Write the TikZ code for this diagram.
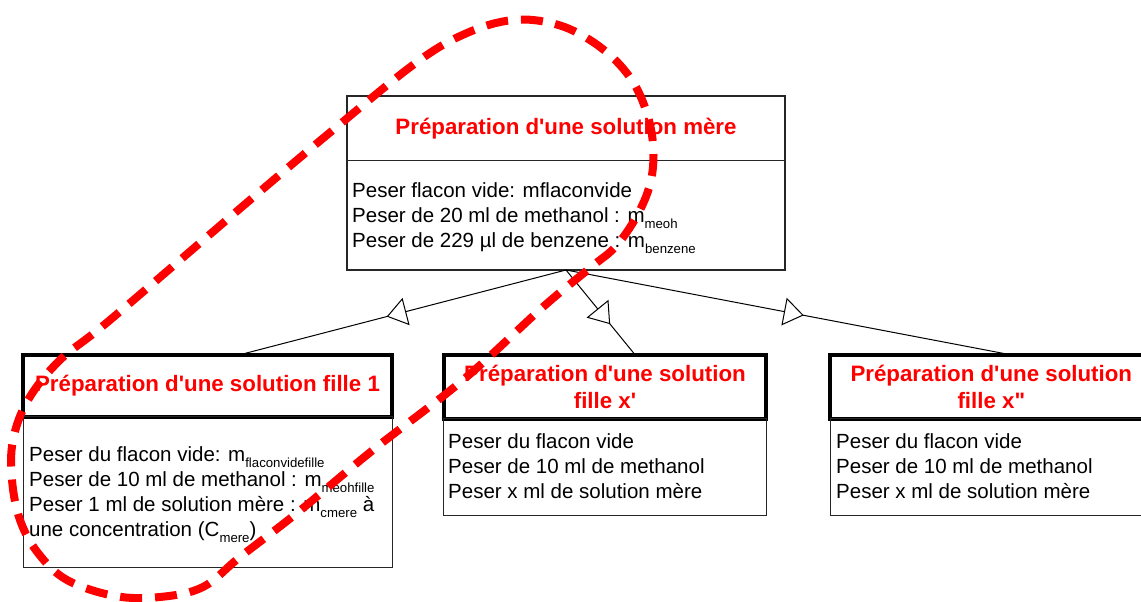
\documentclass[tikz,border=0pt]{standalone}
\usepackage{fontspec}
\setmainfont{Liberation Sans}[Ligatures=TeXOff]
\usetikzlibrary{arrows.meta,decorations.markings,calc}
\newcommand\titlefont{\fontsize{22.3}{27}\selectfont\bfseries}
\newcommand\bodyfont{\fontsize{20.5}{25}\selectfont}
\newcommand\sbs[1]{\smash{\raisebox{-6.5pt}{\fontsize{13.2}{14}\selectfont #1}}}
\begin{document}
\begin{tikzpicture}[x=1pt,y=-1pt,
  frame/.style={draw=black!85, line width=1.2pt, inner sep=0pt, outer sep=0pt, anchor=north west},
  thickframe/.style={draw=black, line width=4pt, inner sep=0pt, outer sep=0pt, anchor=north west, text=red, font=\titlefont, align=center},
  bodyframe/.style={draw=black!85, line width=1pt, inner sep=0pt, outer sep=0pt, anchor=north west},
  txt/.style={anchor=base west, inner sep=0pt, font=\bodyfont},
  conn/.style={draw=black, line width=1pt, postaction={decorate},
    decoration={markings, mark=at position #1 with {\arrow{Triangle[length=20pt,width=28pt,fill=white,line width=1pt]}}}},
  redloop/.style={draw=red, line width=8pt, dash pattern=on 22pt off 13pt}
]
\useasboundingbox (0,0) rectangle (1141,602);
\clip (0,0) rectangle (1141,602);

% mother solution box
\node[frame, minimum width=438pt, minimum height=64.5pt, text=red, font=\titlefont] (mereT) at (347,96) {Préparation d'une solution mère};
\node[frame, minimum width=438pt, minimum height=109.5pt] (mereB) at (mereT.south west) {};
\node[txt] (mereTxt) at (352,197) {\begin{tabular}[t]{@{}l@{}}
Peser flacon vide: mflaconvide\\
Peser de 20 ml de methanol : m\sbs{meoh}\\
Peser de 229 µl de benzene : m\sbs{benzene}
\end{tabular}};

% daughter 1
\node[thickframe, minimum width=369pt, minimum height=62pt] (f1T) at (23,354.7) {Préparation d'une solution fille 1};
\node[bodyframe, minimum width=369pt, minimum height=150.3pt] (f1B) at (f1T.south west) {};
\node[txt] (f1Txt) at (29,461) {\begin{tabular}[t]{@{}l@{}}
Peser du flacon vide: m\sbs{flaconvidefille}\\
Peser de 10 ml de methanol : m\sbs{meohfille}\\
Peser 1 ml de solution mère : m\sbs{cmere} à\\
une concentration (C\sbs{mere})
\end{tabular}};

% daughter x'
\node[thickframe, minimum width=322.6pt, minimum height=64pt] (f2T) at (443.7,354.7) {Préparation d'une solution\\fille x'};
\node[bodyframe, minimum width=322.6pt, minimum height=96.3pt] (f2B) at (f2T.south west) {};
\node[txt] (f2Txt) at (448,448) {\begin{tabular}[t]{@{}l@{}}
Peser du flacon vide\\
Peser de 10 ml de methanol\\
Peser x ml de solution mère
\end{tabular}};

% daughter x''
\node[thickframe, minimum width=322.6pt, minimum height=64pt] (f3T) at (830,354.7) {Préparation d'une solution\\fille x"};
\node[bodyframe, minimum width=322.6pt, minimum height=96.3pt] (f3B) at (f3T.south west) {};
\node[txt] (f3Txt) at (836,448) {\begin{tabular}[t]{@{}l@{}}
Peser du flacon vide\\
Peser de 10 ml de methanol\\
Peser x ml de solution mère
\end{tabular}};

% connectors
\draw[conn=0.55] (mereB.south) -- ($(f1T.north)+(32.5,0)$);
\draw[conn=0.64] (mereB.south) -- ($(f2T.north)+(30,0)$);
\draw[conn=0.535] (mereB.south) -- ($(f3T.north)+(19,0)$);

% red dashed loop
\draw[redloop] plot[smooth cycle, tension=0.6] coordinates {
(513,20) (555,24) (590,40) (620,65) (640,95) (652,135) (652,175) (640,210)
(617,245) (590,268) (543,307) (463,380) (373,450) (297,513) (240,557)
(203,587) (160,597) (115,596) (67,580) (38,553) (20,520) (12,480) (13,440)
(28,400) (60,360) (110,320) (250,200) (333,130) (417,62) (467,33)};
\end{tikzpicture}
\end{document}
